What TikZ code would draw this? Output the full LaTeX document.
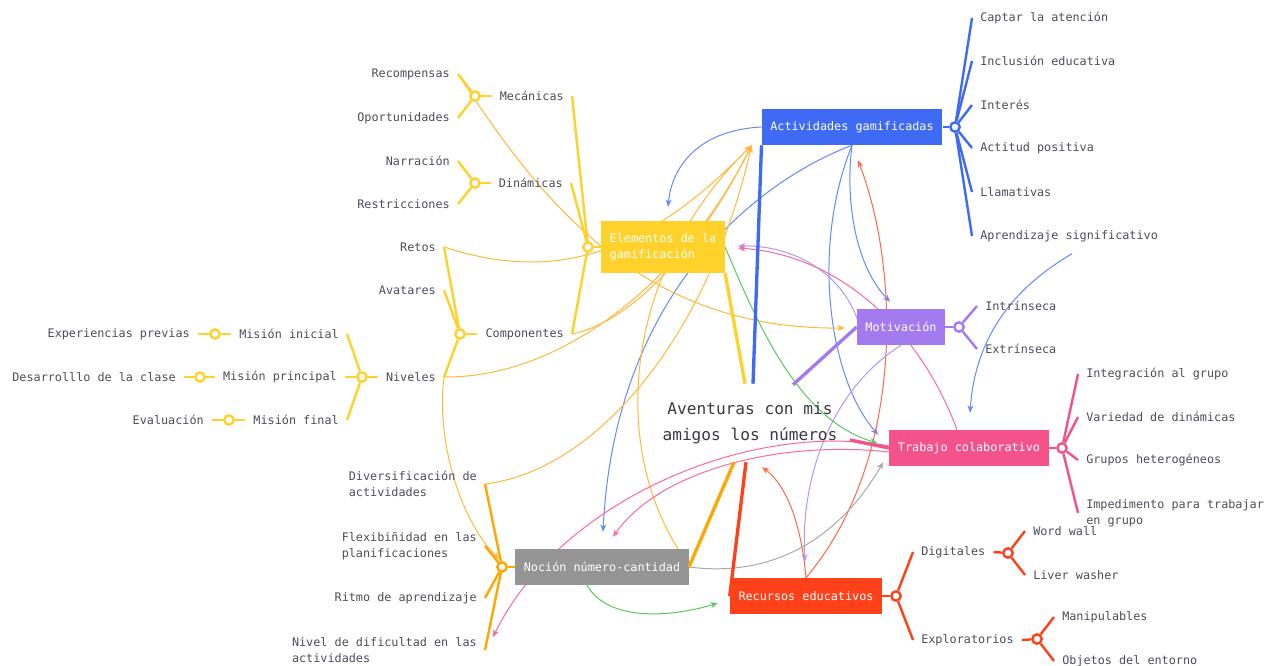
\documentclass[tikz,border=0pt]{standalone}
\usepackage{fontspec}
\setmonofont{DejaVu Sans Mono}
\usepackage{tikz}
\usetikzlibrary{arrows.meta,calc,backgrounds}
\definecolor{ink}{HTML}{4E4E5A}
\definecolor{deep}{HTML}{3A3A44}
\definecolor{blu}{HTML}{3F6BF4}
\definecolor{yel}{HTML}{FFD22B}
\definecolor{amber}{HTML}{FFB83A}
\definecolor{org}{HTML}{FFA600}
\definecolor{pur}{HTML}{A47AF0}
\definecolor{pnk}{HTML}{F4528B}
\definecolor{tomato}{HTML}{FF4119}
\definecolor{gry}{HTML}{959595}
\definecolor{grn}{HTML}{5BC85B}
\tikzset{
  lbl/.style={font=\ttfamily\fontsize{8.85}{12}\selectfont,text=ink,inner xsep=6pt,inner ysep=2pt,align=left},
  llbl/.style={lbl,anchor=east},
  rlbl/.style={lbl,anchor=west},
  topic/.style={fill=#1,text=white,font=\ttfamily\fontsize{8.85}{12}\selectfont,inner xsep=6.4pt,minimum height=27pt,align=left},
  central/.style={font=\ttfamily\fontsize{12.1}{19.5}\selectfont,text=deep,align=center,inner sep=0pt,minimum width=142pt,minimum height=58.5pt},
  hub/.style={circle,draw=#1,fill=white,line width=1.8pt,inner sep=0pt,minimum size=7pt},
  twig/.style={draw=#1,line width=1.8pt},
  trunk/.style={draw=#1,line width=2.5pt},
  link/.style={draw=#1,line width=0.75pt,-{Stealth[length=5.5pt,width=4.5pt]}},
}
\begin{document}
\begin{tikzpicture}[x=0.75pt,y=-0.75pt]
  \useasboundingbox (0,0) rectangle (1269,665);
  \node[central] (centro) at (750,423) {Aventuras con mis\\amigos los números};
  \node[topic=blu] (act) at (852,127) {Actividades gamificadas};
  \node[topic=yel,minimum height=39pt] (elem) at (663,247) {Elementos de la\\gamificación};
  \node[topic=pur] (mot) at (901,327) {Motivación};
  \node[topic=pnk] (trab) at (969,448) {Trabajo colaborativo};
  \node[topic=tomato] (rec) at (806,596) {Recursos educativos};
  \node[topic=gry] (noc) at (602,567) {Noción número-cantidad};

  \draw[trunk=yel] ($(centro.north)+(-5,0)$) -- (elem.south east);
  \draw[trunk=blu] ($(centro.north)+(3,0)$) -- (act.south west);
  \draw[trunk=pur] ($(centro.north)+(43,1)$) -- (mot.west);
  \draw[trunk=pnk] ($(centro.east)+(5,17)$) -- (trab.west);
  \draw[trunk=tomato] ($(centro.south)+(-4,0)$) -- (rec.west);
  \draw[trunk=org] ($(centro.south)+(-16,0)$) -- (noc.east);

  % Elementos de la gamificacion
  \node[hub=yel] (elemh) at (588,247) {};
  \draw[twig=yel] (elem.west) -- (elemh);
  \node[llbl] (mec) at (572,96) {Mecánicas};
  \node[llbl] (din) at (571,183) {Dinámicas};
  \node[llbl] (comp) at (572,334) {Componentes};
  \foreach \n in {mec,din,comp} \draw[twig=yel] (elemh) -- (\n.east);
  \node[hub=yel] (mech) at (475,96) {};
  \node[hub=yel] (dinh) at (475,183) {};
  \node[hub=yel] (comph) at (460,334) {};
  \foreach \n in {mec,din,comp} \draw[twig=yel] (\n.west) -- (\n h);
  \node[llbl] (recomp) at (458,74) {Recompensas};
  \node[llbl] (oport) at (458,118) {Oportunidades};
  \node[llbl] (narr) at (458,161) {Narración};
  \node[llbl] (restr) at (458,204) {Restricciones};
  \node[llbl] (retos) at (444,247) {Retos};
  \node[llbl] (avat) at (444,290) {Avatares};
  \node[llbl] (niv) at (444,377) {Niveles};
  \foreach \x/\y in {mech/recomp,mech/oport,dinh/narr,dinh/restr,comph/retos,comph/avat,comph/niv}
    \draw[twig=yel] (\x) -- (\y.east);
  \node[hub=yel] (nivh) at (362,377) {};
  \draw[twig=yel] (niv.west) -- (nivh);
  \node[llbl] (mini) at (347,334) {Misión inicial};
  \node[llbl] (mprin) at (345,377) {Misión principal};
  \node[llbl] (mfin) at (347,420) {Misión final};
  \node[hub=yel] (minih) at (215,334) {};
  \node[hub=yel] (mprinh) at (200,377) {};
  \node[hub=yel] (mfinh) at (229,420) {};
  \node[llbl] (exper) at (198,334) {Experiencias previas};
  \node[llbl] (desar) at (184,377) {Desarrolllo de la clase};
  \node[llbl] (evalu) at (212,420) {Evaluación};
  \foreach \x/\y in {mini/exper,mprin/desar,mfin/evalu}{
    \draw[twig=yel] (nivh) -- (\x.east);
    \draw[twig=yel] (\x.west) -- (\x h);
    \draw[twig=yel] (\x h) -- (\y.east);
  }

  % Actividades gamificadas
  \node[hub=blu] (acth) at (955,127) {};
  \draw[twig=blu] (act.east) -- (acth);
  \foreach \n/\y/\t in {capt/18/Captar la atención,incl/61/Inclusión educativa,inte/105/Interés,acti/148/Actitud positiva,llam/192/Llamativas,aprsig/236/Aprendizaje significativo}{
    \node[rlbl] (\n) at (972,\y) {\t};
    \draw[twig=blu] (acth) -- (\n.west);
  }

  % Motivacion
  \node[hub=pur] (moth) at (959,327) {};
  \draw[twig=pur] (mot.east) -- (moth);
  \node[rlbl] (intr) at (977,306) {Intrínseca};
  \node[rlbl] (extr) at (977,349) {Extrínseca};
  \foreach \n in {intr,extr} \draw[twig=pur] (moth) -- (\n.west);

  % Trabajo colaborativo
  \node[hub=pnk] (trabh) at (1062,448) {};
  \draw[twig=pnk] (trab.east) -- (trabh);
  \node[rlbl] (integ) at (1078,374) {Integración al grupo};
  \node[rlbl] (varie) at (1078,417) {Variedad de dinámicas};
  \node[rlbl] (grupos) at (1078,460) {Grupos heterogéneos};
  \node[rlbl] (imped) at (1078,513) {Impedimento para trabajar\\en grupo};
  \foreach \n in {integ,varie,grupos,imped} \draw[twig=pnk] (trabh) -- (\n.west);

  % Recursos educativos
  \node[hub=tomato] (rech) at (896,596) {};
  \draw[twig=tomato] (rec.east) -- (rech);
  \node[rlbl] (digi) at (913,552) {Digitales};
  \node[rlbl] (explo) at (913,640) {Exploratorios};
  \foreach \n in {digi,explo} \draw[twig=tomato] (rech) -- (\n.west);
  \node[hub=tomato] (digih) at (1008,553) {};
  \node[hub=tomato] (exploh) at (1037,639) {};
  \foreach \n in {digi,explo} \draw[twig=tomato] (\n.east) -- (\n h);
  \node[rlbl] (word) at (1025,531) {Word wall};
  \node[rlbl] (liver) at (1025,575) {Liver washer};
  \node[rlbl] (manip) at (1054,617) {Manipulables};
  \node[rlbl] (objs) at (1054,661) {Objetos del entorno};
  \foreach \x/\y in {digih/word,digih/liver,exploh/manip,exploh/objs}
    \draw[twig=tomato] (\x) -- (\y.west);

  % Nocion numero-cantidad
  \node[hub=org] (noch) at (502,567) {};
  \draw[twig=org] (noc.west) -- (noch);
  \node[llbl] (diver) at (485,484) {Diversificación de\\actividades};
  \node[llbl] (flexi) at (485,546) {Flexibiñidad en las\\planificaciones};
  \node[llbl] (ritmo) at (485,598) {Ritmo de aprendizaje};
  \node[llbl] (nivdif) at (485,650) {Nivel de dificultad en las\\actividades};
  \foreach \n in {diver,flexi,ritmo,nivdif} \draw[twig=org] (noch) -- (\n.east);

  \begin{scope}[on background layer]
    \fill[white] (0,0) rectangle (1269,665);
    \coordinate (actin) at ($(act.south west)+(-10,0)$);
    \draw[link=blu!80] (act.west) .. controls (700,130) and (672,165) .. ($(elem.north)+(5,-14)$);
    \draw[link=blu!80] (act.south) .. controls (845,200) and (855,265) .. ($(mot.north)+(-11,-7)$);
    \draw[link=blu!80] (act.south) .. controls (810,250) and (830,380) .. ($(trab.north west)+(-11,5)$);
    \draw[link=blu!80] (act.south) .. controls (760,180) and (615,290) .. ($(noc.north)+(1,-17)$);
    \draw[link=blu!80] ($(aprsig.south)+(3,9)$) .. controls (1010,290) and (975,340) .. ($(trab.north)+(1,-17)$);
    \draw[link=amber] (retos.east) .. controls (560,285) and (650,250) .. (actin);
    \draw[link=amber] (comp.east) .. controls (640,320) and (710,230) .. (actin);
    \draw[link=amber] (niv.east) .. controls (570,378) and (690,270) .. (actin);
    \draw[link=amber] (diver.east) .. controls (600,470) and (710,330) .. (actin);
    \draw[link=amber] ($(noc.north east)+(-11,0)$) .. controls (610,440) and (625,270) .. (actin);
    \draw[link=amber] (recomp.east) .. controls (540,200) and (640,330) .. ($(mot.west)+(-12,1)$);
    \draw[link=amber] (niv.east) .. controls (436,440) and (460,520) .. ($(noch)+(-3,-8)$);
    \draw[link=tomato!80] (rec.north) .. controls (905,460) and (900,270) .. ($(act.south)+(6,15)$);
    \draw[link=tomato!80] (rec.north) .. controls (800,510) and (780,480) .. ($(centro.south)+(12,5)$);
    \draw[link=pur!80] (mot.south) .. controls (830,390) and (800,480) .. ($(rec.north)+(-1,-16)$);
    \draw[link=pur!80] ($(mot.west)+(1,-7)$) .. controls (840,270) and (790,245) .. ($(elem.east)+(13,-1)$);
    \draw[link=pnk!85] ($(trab.north)+(-12,0)$) .. controls (920,330) and (840,255) .. ($(elem.east)+(13,1)$);
    \draw[link=pnk!85] ($(trab.west)+(0,4)$) .. controls (780,440) and (660,470) .. ($(noc.north)+(11,-12)$);
    \draw[link=pnk!85] ($(trab.west)+(0,-2)$) .. controls (750,420) and (560,500) .. ($(nivdif.east)+(8,-13)$);
    \draw[link=grn] (elem.east) .. controls (760,330) and (800,420) .. ($(trab.west)+(-12,-5)$);
    \draw[link=grn] ($(noc.south)+(-15,0)$) .. controls (610,625) and (680,615) .. ($(rec.west)+(-12,7)$);
    \draw[link=gry!80] (noc.east) .. controls (790,580) and (850,520) .. ($(trab.south west)+(-6,-4)$);
  \end{scope}
\end{tikzpicture}
\end{document}
